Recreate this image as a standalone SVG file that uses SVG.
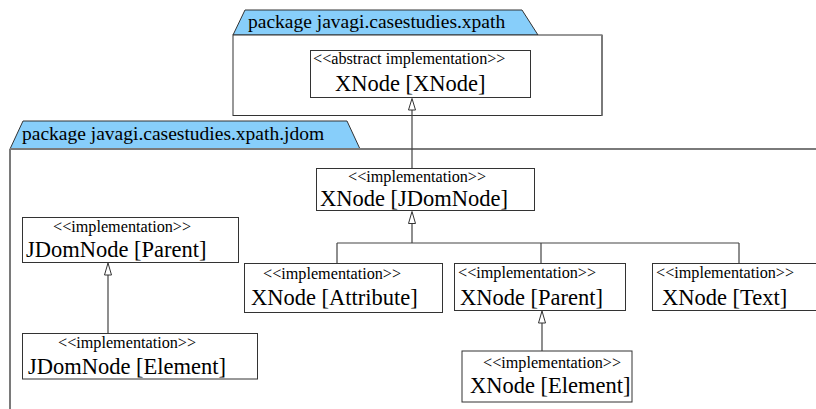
<svg xmlns="http://www.w3.org/2000/svg" width="816" height="409" viewBox="0 0 816 409" font-family="Liberation Serif, DejaVu Serif, serif">
<style>
text{font-family:'Liberation Serif','DejaVu Serif',serif;fill:#000}
.st{font-size:16.2px}
.nm{font-size:22.5px}
.pk{font-size:19.5px}
.box{fill:#fff;stroke:#333;stroke-width:1}
.tab{fill:#87CEFA;stroke:#333;stroke-width:1}
.pkb{fill:none;stroke:#7a7a7a;stroke-width:2}
.con{fill:none;stroke:#444;stroke-width:1.2}
.tri{fill:#fff;stroke:#333;stroke-width:1}
</style>
<rect width="816" height="409" fill="#fff"/>
<g id="pkg_xpath">
<polygon class="tab" points="233,35 245,10 522,10 538,35"/>
<rect x="233" y="35" width="369" height="80.5" fill="#fff" stroke="#333" stroke-width="1"/>
<line x1="602" y1="35" x2="602" y2="115.5" stroke="#7a7a7a" stroke-width="2"/>
<text class="pk" x="248" y="28">package javagi.casestudies.xpath</text>
</g>
<g id="pkg_jdom">
<polygon class="tab" points="10,149 23,121 347,121 360,149"/>
<path class="pkb" d="M10,149 H820 M10,149 V412"/>
<text class="pk" x="22" y="140">package javagi.casestudies.xpath.jdom</text>
</g>
<g id="connectors">
<line class="con" x1="412" y1="168" x2="412" y2="110"/>
<polygon class="tri" points="412,98.5 408.5,110 415.5,110"/>
<path class="con" d="M412,224 V243 M337,243 H739 M337,243 V263 M541,243 V263 M739,243 V263"/>
<polygon class="tri" points="412,211.5 408.5,223.5 415.5,223.5"/>
<line class="con" x1="542" y1="351" x2="542" y2="323"/>
<polygon class="tri" points="542,311 538.5,323 545.5,323"/>
<line class="con" x1="108" y1="333" x2="108" y2="275"/>
<polygon class="tri" points="108,263 104.5,275 111.5,275"/>
</g>
<g id="n_xnode">
<rect class="box" x="310.5" y="50.5" width="220" height="47"/>
<text class="st" x="313" y="64">&lt;&lt;abstract implementation&gt;&gt;</text>
<text class="nm" x="335" y="91">XNode [XNode]</text>
</g>
<g id="n_xnode_jdomnode">
<rect class="box" x="316.5" y="168.5" width="218" height="42"/>
<text class="st" x="348" y="182">&lt;&lt;implementation&gt;&gt;</text>
<text class="nm" x="320" y="206">XNode [JDomNode]</text>
</g>
<g id="n_jdomnode_parent">
<rect class="box" x="22.5" y="217.5" width="216" height="45"/>
<text class="st" x="53" y="232">&lt;&lt;implementation&gt;&gt;</text>
<text class="nm" x="26" y="257">JDomNode [Parent]</text>
</g>
<g id="n_jdomnode_element">
<rect class="box" x="22.5" y="333.5" width="235" height="45.5"/>
<text class="st" x="58" y="348">&lt;&lt;implementation&gt;&gt;</text>
<text class="nm" x="28" y="374">JDomNode [Element]</text>
</g>
<g id="n_xnode_attribute">
<rect class="box" x="244.5" y="263.5" width="198" height="49"/>
<text class="st" x="263" y="279">&lt;&lt;implementation&gt;&gt;</text>
<text class="nm" x="251" y="305">XNode [Attribute]</text>
</g>
<g id="n_xnode_parent">
<rect class="box" x="454.5" y="263.5" width="171" height="47"/>
<text class="st" x="458" y="278">&lt;&lt;implementation&gt;&gt;</text>
<text class="nm" x="460" y="305">XNode [Parent]</text>
</g>
<g id="n_xnode_text">
<rect class="box" x="652.5" y="263.5" width="170" height="47"/>
<text class="st" x="656" y="278">&lt;&lt;implementation&gt;&gt;</text>
<text class="nm" x="662" y="305">XNode [Text]</text>
</g>
<g id="n_xnode_element">
<rect class="box" x="462" y="351" width="170" height="51"/>
<text class="st" x="483" y="368">&lt;&lt;implementation&gt;&gt;</text>
<text class="nm" x="470" y="393">XNode [Element]</text>
</g>
</svg>
